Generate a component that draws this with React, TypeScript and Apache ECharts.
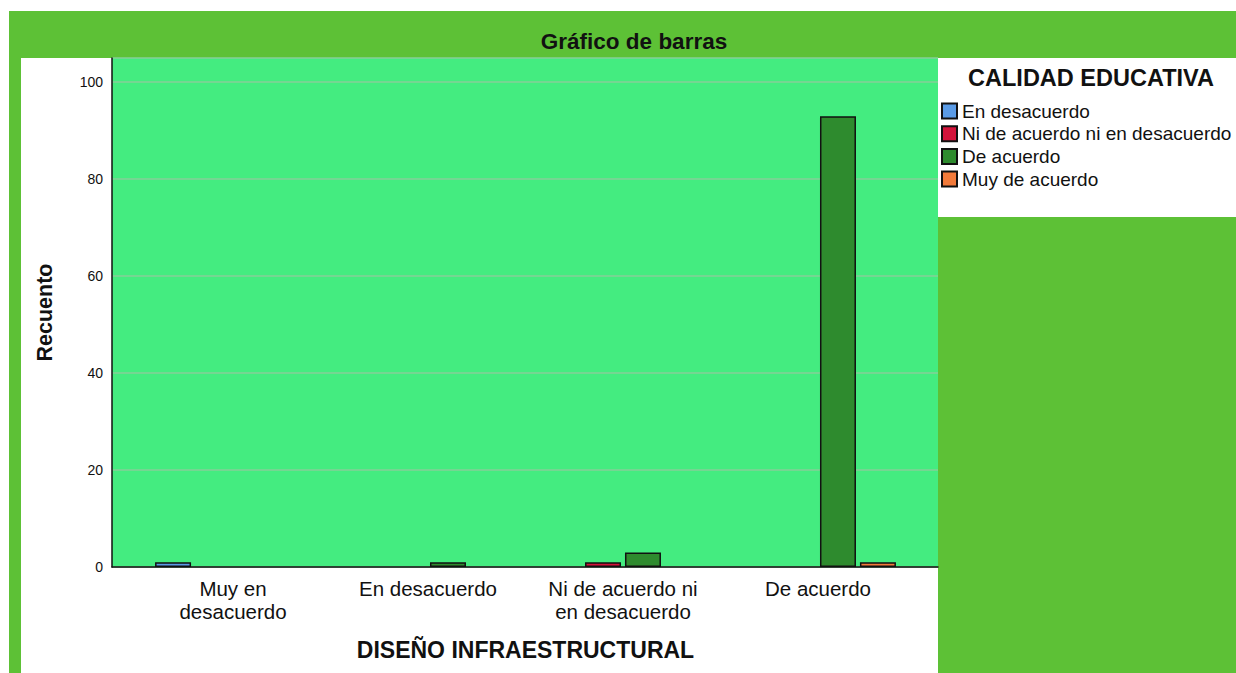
import React, { useEffect, useRef } from "react";
import * as echarts from "echarts";

const categories = ["Muy en\ndesacuerdo", "En desacuerdo", "Ni de acuerdo ni\nen desacuerdo", "De acuerdo"];
const seriesNames = ["En desacuerdo", "Ni de acuerdo ni en desacuerdo", "De acuerdo", "Muy de acuerdo"];
const enDesacuerdo = [1, null, null, null];
const niDeAcuerdo = [null, null, 1, null];
const deAcuerdo = [null, 1, 3, 93];
const muyDeAcuerdo = [null, null, null, 1];
const seriesColors = ["#5A9BE6", "#D3133A", "#2E8B2E", "#F27A3A"];
const yTicks = [0, 20, 40, 60, 80, 100];

const FONT = "'Liberation Sans', Arial, sans-serif";

export default function App() {
  const ref = useRef<HTMLDivElement>(null);
  useEffect(() => {
    if (!ref.current) return;
    const chart = echarts.init(ref.current, null, { renderer: "svg" });
    const values = [enDesacuerdo, niDeAcuerdo, deAcuerdo, muyDeAcuerdo];
    chart.setOption({
      animation: false,
      backgroundColor: "#ffffff",
      textStyle: { fontFamily: FONT },
      graphic: [
        { type: "rect", z: -10, shape: { x: 9, y: 11, width: 1227, height: 662 }, style: { fill: "#5DC136" } },
        { type: "rect", z: -9, shape: { x: 21, y: 58, width: 917, height: 615 }, style: { fill: "#ffffff" } },
        { type: "rect", z: -9, shape: { x: 938, y: 58, width: 298, height: 159 }, style: { fill: "#ffffff" } },
      ],
      title: [
        {
          text: "Gráfico de barras",
          left: 629,
          textAlign: "center",
          top: 25,
          textStyle: { fontFamily: FONT, fontSize: 22.5, fontWeight: "bold", color: "#111" },
        },
        {
          text: "CALIDAD EDUCATIVA",
          left: 1086,
          textAlign: "center",
          top: 61,
          textStyle: { fontFamily: FONT, fontSize: 23.5, fontWeight: "bold", color: "#111" },
        },
      ],
      legend: {
        orient: "vertical",
        left: 941,
        top: 101.5,
        itemWidth: 15,
        itemHeight: 15,
        itemGap: 3.7,
        icon: "rect",
        data: seriesNames,
        textStyle: { fontFamily: FONT, fontSize: 19, lineHeight: 15, color: "#111" },
        padding: 0,
      },
      grid: [
        { left: 112, right: 298, top: 58, bottom: 106, show: true, backgroundColor: "#44EC80", borderWidth: 0, outerBoundsMode: "none" },
        { left: 135.5, right: 320.5, top: 58, bottom: 106, outerBoundsMode: "none" },
      ],
      xAxis: [
        {
          gridIndex: 0,
          type: "value",
          min: 0,
          max: 1,
          axisLine: { show: true, lineStyle: { color: "#111", width: 1.5 } },
          axisTick: { show: false },
          axisLabel: { show: false },
          splitLine: { show: false },
        },
        {
          gridIndex: 1,
          type: "category",
          data: categories,
          axisLine: { show: false },
          axisTick: { show: false },
          axisLabel: {
            interval: 0,
            hideOverlap: false,
            margin: 9.5,
            fontFamily: FONT,
            fontSize: 20.5,
            lineHeight: 23,
            color: "#111",
          },
          name: "DISEÑO INFRAESTRUCTURAL",
          nameLocation: "middle",
          nameGap: 71,
          nameTextStyle: { fontFamily: FONT, fontSize: 23, fontWeight: "bold", color: "#111" },
        },
      ],
      yAxis: [
        {
          gridIndex: 0,
          type: "value",
          min: 0,
          max: 105,
          interval: 20,
          axisLine: { show: true, lineStyle: { color: "#111", width: 1.5 } },
          axisTick: { show: false },
          axisLabel: {
            margin: 9,
            fontFamily: FONT,
            fontSize: 14,
            color: "#111",
            formatter: (v: number) => (yTicks.includes(v) ? String(v) : ""),
          },
          splitLine: { show: true, lineStyle: { color: "#86CF98", width: 1.5 } },
          name: "Recuento",
          nameLocation: "middle",
          nameRotate: 90,
          nameGap: 56,
          nameTextStyle: { fontFamily: FONT, fontSize: 21.5, fontWeight: "bold", color: "#111" },
        },
        {
          gridIndex: 1,
          type: "value",
          min: 0,
          max: 105,
          interval: 20,
          show: false,
          splitLine: { show: false },
        },
      ],
      series: seriesNames.map((name, i) => ({
        name,
        type: "bar",
        xAxisIndex: 1,
        yAxisIndex: 1,
        data: values[i],
        barWidth: 36,
        barGap: "11%",
        itemStyle: { color: seriesColors[i], borderColor: "#111", borderWidth: 1.5 },
      })),
    });
    return () => chart.dispose();
  }, []);
  return (
    <div
      ref={ref}
      style={{ position: "absolute", left: 0, top: 0, width: 1236, height: 673 }}
    />
  );
}
